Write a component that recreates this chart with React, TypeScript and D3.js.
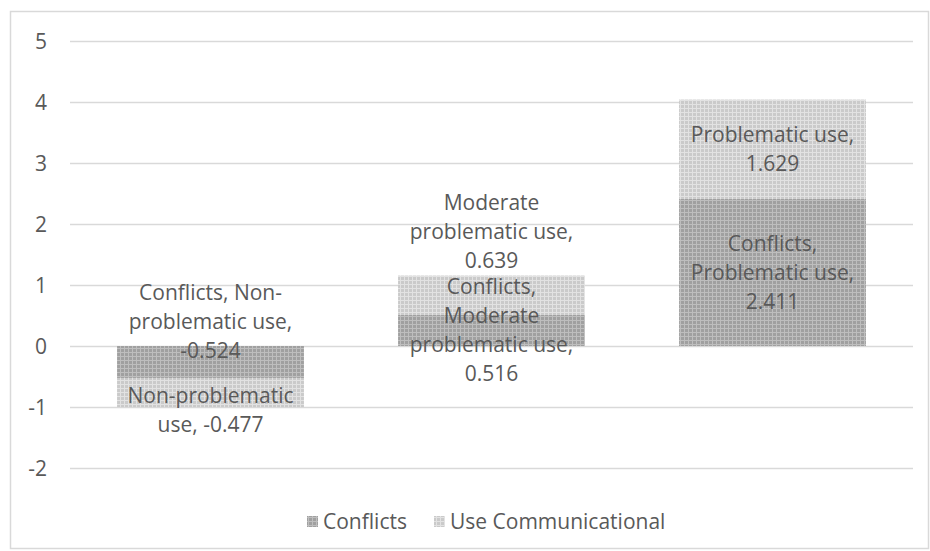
import { useEffect, useRef } from "react";
import * as d3 from "d3";

const categories: string[] = ["Non-problematic use", "Moderate problematic use", "Problematic use"];
const seriesNames: string[] = ["Conflicts", "Use Communicational"];
const conflicts: number[] = [-0.524, 0.516, 2.411];
const useCommunicational: number[] = [-0.477, 0.639, 1.629];
const yTicks: number[] = [-2, -1, 0, 1, 2, 3, 4, 5];

// data labels as Excel wrapped them
const conflictLabels: string[][] = [
  ["Conflicts, Non-", "problematic use,", "-0.524"],
  ["Conflicts,", "Moderate", "problematic use,", "0.516"],
  ["Conflicts,", "Problematic use,", "2.411"],
];
const useLabels: string[][] = [
  ["Non-problematic", "use, -0.477"],
  ["Moderate", "problematic use,", "0.639"],
  ["Problematic use,", "1.629"],
];

function App() {
  const svgRef = useRef<SVGSVGElement>(null);

  useEffect(() => {
    if (!svgRef.current) return;
    const svg = d3.select(svgRef.current);
    svg.selectAll("*").remove();

    const width = 930;
    const height = 551;
    const font = "'Open Sans', 'Noto Sans', sans-serif";
    const fontSize = 21;
    const textColor = "#595959";

    svg.attr("width", width).attr("height", height);

    // patterns like Excel's dotted grid fills
    const defs = svg.append("defs");
    const makePattern = (id: string, base: string, dot: string) => {
      const p = defs
        .append("pattern")
        .attr("id", id)
        .attr("patternUnits", "userSpaceOnUse")
        .attr("width", 4)
        .attr("height", 4);
      p.append("rect").attr("width", 4).attr("height", 4).attr("fill", base);
      p.append("rect").attr("x", 0).attr("y", 0).attr("width", 4).attr("height", 1).attr("fill", dot);
      p.append("rect").attr("x", 0).attr("y", 0).attr("width", 1).attr("height", 4).attr("fill", dot);
    };
    makePattern("patConf", "#a0a0a0", "#bebebe");
    makePattern("patUse", "#cacaca", "#e2e2e2");
    const fills = ["url(#patConf)", "url(#patUse)"];

    // chart border
    svg
      .append("rect")
      .attr("x", 10.5)
      .attr("y", 11.5)
      .attr("width", 918)
      .attr("height", 537)
      .attr("fill", "white")
      .attr("stroke", "#d9d9d9")
      .attr("stroke-width", 1.5);

    const plot = { left: 70, right: 913 };

    const x = d3
      .scaleBand()
      .domain(categories)
      .range([plot.left, plot.right])
      .paddingInner(0.335)
      .paddingOuter(0.1675);

    const y = d3.scaleLinear().domain([-2, 5]).range([468, 41]);

    // gridlines
    svg
      .append("g")
      .selectAll("line")
      .data(yTicks)
      .join("line")
      .attr("x1", plot.left)
      .attr("x2", plot.right)
      .attr("y1", (d) => Math.round(y(d)) + 0.5)
      .attr("y2", (d) => Math.round(y(d)) + 0.5)
      .attr("stroke", "#d9d9d9")
      .attr("stroke-width", 1.3);

    // tick labels
    svg
      .append("g")
      .selectAll("text")
      .data(yTicks)
      .join("text")
      .attr("x", 47)
      .attr("y", (d) => y(d) + 7.5)
      .attr("text-anchor", "end")
      .attr("font-family", font)
      .attr("font-size", fontSize)
      .attr("fill", textColor)
      .text((d) => String(d));

    // stacked segments (negatives stack downward)
    const seriesVals = [conflicts, useCommunicational];
    const segs: { s: number; i: number; y0: number; y1: number }[] = [];
    categories.forEach((_, i) => {
      let pos = 0;
      let neg = 0;
      seriesVals.forEach((vals, s) => {
        const v = vals[i];
        if (v >= 0) {
          segs.push({ s, i, y0: pos, y1: pos + v });
          pos += v;
        } else {
          segs.push({ s, i, y0: neg, y1: neg + v });
          neg += v;
        }
      });
    });

    svg
      .append("g")
      .selectAll("rect")
      .data(segs)
      .join("rect")
      .attr("x", (d) => x(categories[d.i])!)
      .attr("width", x.bandwidth())
      .attr("y", (d) => y(Math.max(d.y0, d.y1)))
      .attr("height", (d) => Math.abs(y(d.y0) - y(d.y1)))
      .attr("fill", (d) => fills[d.s]);

    // data labels; some are nudged as Excel did to avoid overlap
    const labelShift: number[][] = [
      [-40, 0, 0],
      [17, -64, 0],
    ];
    const lineH = 29;
    const labels = segs.map((d) => ({
      lines: d.s === 0 ? conflictLabels[d.i] : useLabels[d.i],
      cx: x(categories[d.i])! + x.bandwidth() / 2,
      cy: y((d.y0 + d.y1) / 2) + labelShift[d.s][d.i],
    }));

    const lg = svg.append("g");
    labels.forEach((l) => {
      const n = l.lines.length;
      lg.append("g")
        .selectAll("text")
        .data(l.lines)
        .join("text")
        .attr("x", l.cx)
        .attr("y", (_, k) => l.cy + (k - (n - 1) / 2) * lineH + 7.5)
        .attr("text-anchor", "middle")
        .attr("font-family", font)
        .attr("font-size", fontSize)
        .attr("fill", textColor)
        .text((t) => t);
    });

    // legend
    const legend = svg.append("g").attr("transform", "translate(0,529)");
    const legendX = [307, 434];
    seriesNames.forEach((name, s) => {
      legend
        .append("rect")
        .attr("x", legendX[s])
        .attr("y", -13)
        .attr("width", 11)
        .attr("height", 11)
        .attr("fill", fills[s]);
      legend
        .append("text")
        .attr("x", legendX[s] + 16)
        .attr("y", 0)
        .attr("font-family", font)
        .attr("font-size", fontSize)
        .attr("fill", textColor)
        .text(name);
    });
  }, []);

  return (
    <svg ref={svgRef} style={{ position: "absolute", left: 0, top: 0 }}></svg>
  );
}

export default App;
